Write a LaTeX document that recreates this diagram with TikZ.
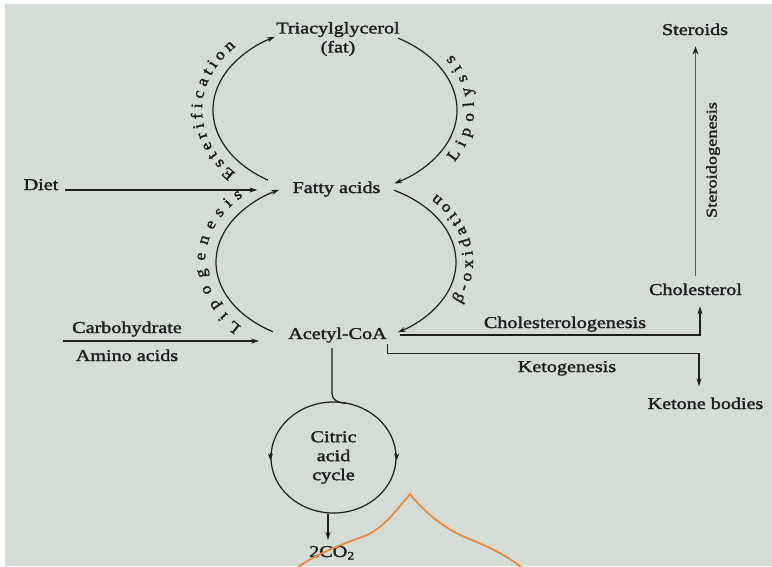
\documentclass[tikz,border=0pt]{standalone}
\usepackage{fontspec}
\setmainfont[FakeStretch=1.22,FakeBold=1.8]{Liberation Serif}
\newfontfamily\arcfont[FakeStretch=1.1,FakeBold=1.8]{Liberation Serif}
\usetikzlibrary{arrows.meta,shapes.geometric,decorations.text}

\definecolor{paper}{RGB}{211,221,214}
\definecolor{ink}{RGB}{30,30,30}
\definecolor{steel}{RGB}{88,88,88}
\definecolor{dome}{RGB}{240,136,58}

\tikzset{
  lbl/.style={inner sep=1pt, anchor=base, text=ink, font=\fontsize{16.5}{19}\selectfont},
  flow/.style={line width=1.2pt, draw=ink, -{Stealth[length=8pt,width=5pt]}},
  arctext/.style={decorate, decoration={text along path, text align=fit to path, text color=ink}},
}

\begin{document}
\begin{tikzpicture}[x=1pt, y=-1pt]
  % page and paper
  \useasboundingbox (0,0) rectangle (772,566);
  \fill[white] (0,0) rectangle (772,566);
  \fill[paper] (5,4) rectangle (772,566);

  %% ==== metabolites ====
  \node[lbl, anchor=center, align=center] (tag) at (338,39) {Triacylglycerol\\(fat)};
  \node[lbl] (fa)    at (336.5,193) {Fatty acids};
  \node[lbl] (acoa)  at (337.5,339) {Acetyl-CoA};
  \node[lbl] (diet)  at (41,190)    {Diet};
  \node[lbl] (carb)  at (127,333)   {Carbohydrate};
  \node[lbl] (amino) at (127,361)   {Amino acids};
  \node[lbl] (chol)  at (695.5,295) {Cholesterol};
  \node[lbl] (ster)  at (695,35)    {Steroids};
  \node[lbl] (keto)  at (705.5,409) {Ketone bodies};
  \node[lbl] (co2)   at (332,557)   {2CO\textsubscript{2}};

  %% ==== pathway names ====
  \node[lbl] (cholgen) at (565,328) {Cholesterologenesis};
  \node[lbl] (ketogen) at (567,372) {Ketogenesis};
  \node[lbl, anchor=center, rotate=90, font=\fontsize{15}{15}\selectfont] (sgen) at (713,160) {Steroidogenesis};

  %% ==== citric acid cycle ====
  \node[lbl, anchor=center, align=center, ellipse, draw=ink, line width=1.2pt,
        minimum width=125pt, minimum height=111pt] (tca) at (333.5,457.5) {Citric\\acid\\cycle};
  \draw[flow, -{Stealth[length=7pt,width=5pt]}] ([yshift=5pt]tca.west) -- ([yshift=-3pt]tca.west);
  \draw[flow, -{Stealth[length=7pt,width=5pt]}] ([yshift=5pt]tca.east) -- ([yshift=-3pt]tca.east);

  %% ==== the two loops ====
  \coordinate (tgloop) at (335,110);
  \coordinate (faloop) at (336,262);
  \draw[flow] ([shift={(123.4:122 and 84)}]tgloop) arc[start angle=123.4, end angle=240.5, x radius=122, y radius=84];
  \draw[flow] ([shift={(-58.8:122 and 84)}]tgloop) arc[start angle=-58.8, end angle=61, x radius=122, y radius=84];
  \draw[flow] ([shift={(121.7:120 and 82)}]faloop) arc[start angle=121.7, end angle=241.8, x radius=120, y radius=82];
  \draw[flow] ([shift={(-61:120 and 82)}]faloop) arc[start angle=-61, end angle=59, x radius=120, y radius=82];

  % names along the loops, spread over their stretch of arc
  \path[arctext, decoration={text={|\fontsize{16}{16}\arcfont|Esterification}, raise=11pt}]
    ([shift={(139:122 and 84)}]tgloop) arc[start angle=139, end angle=221, x radius=122, y radius=84];
  \path[arctext, decoration={text={|\fontsize{16}{16}\arcfont|Lipolysis}, raise=-17pt}]
    ([shift={(30:122 and 84)}]tgloop) arc[start angle=30, end angle=-32, x radius=122, y radius=84];
  \path[arctext, decoration={text={|\fontsize{16}{16}\arcfont|Lipogenesis}, raise=11pt}]
    ([shift={(137:120 and 82)}]faloop) arc[start angle=137, end angle=224, x radius=120, y radius=82];
  \path[arctext, decoration={text={|\fontsize{16}{16}\arcfont|β-oxidation}, raise=-17pt}]
    ([shift={(24:120 and 82)}]faloop) arc[start angle=24, end angle=-42, x radius=120, y radius=82];

  %% ==== feeds and outlets ====
  \draw[flow, shorten <=5pt, shorten >=34pt] (diet.base east) -- (diet.base east -| fa.west);
  \coordinate (feed) at (63,341);
  \draw[flow, shorten >=28pt] (feed) -- (feed -| acoa.west);
  \draw[flow, shorten <=12pt, shorten >=10pt] (acoa.east) -| ([xshift=4.5pt]chol.south);
  \draw[flow, shorten >=10pt] (acoa.south east) -- ++(0,10) -| ([xshift=-6.5pt]keto.north);
  \draw[flow, draw=steel, line width=1.9pt, -{Stealth[length=8pt,width=6pt,color=ink]},
        shorten <=6.5pt, shorten >=10pt] (chol.north) -- (chol.north |- ster.south);
  \draw[line width=1.2pt, ink, shorten <=4pt] ([xshift=-5.5pt]acoa.south) -- ++(0,50)
    .. controls +(0,6) and +(-8,-0.5) .. ([xshift=12.5pt,yshift=-2pt]tca.north);
  \draw[flow, shorten >=5pt] ([xshift=-5.5pt]tca.south) -- ([xshift=-5.5pt]tca.south |- co2.north);

  %% ==== orange dome ====
  \draw[dome, line width=1.8pt] (297,568) .. controls (312,556) and (342,544) .. (362,537)
    .. controls (382,530) and (395,512) .. (410,494)
    .. controls (425,513) and (445,529) .. (467,538)
    .. controls (487,546) and (508,556) .. (522,568);
\end{tikzpicture}
\end{document}
